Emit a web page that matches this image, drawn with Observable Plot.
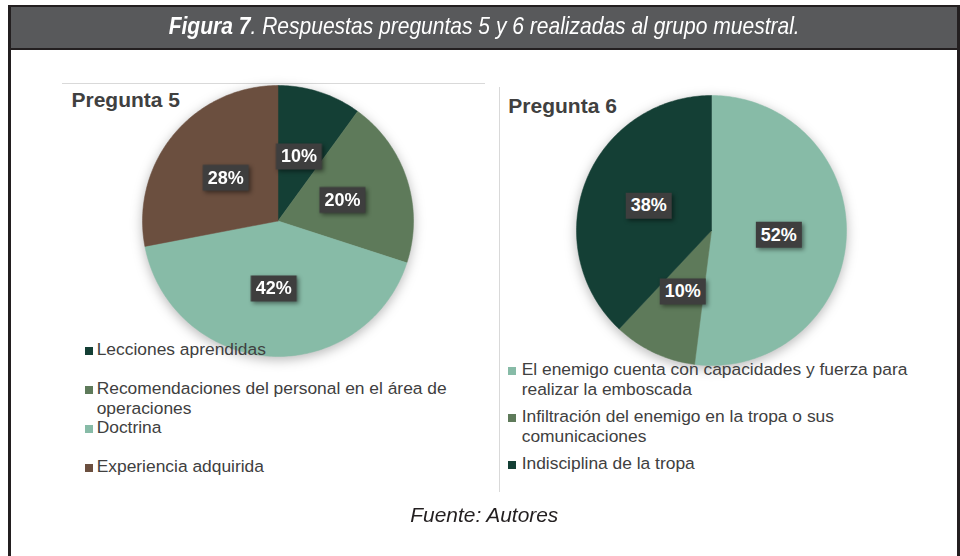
<!DOCTYPE html>
<html>
<head>
<meta charset="utf-8">
<script src="https://cdn.jsdelivr.net/npm/d3@7"></script>
<script src="https://cdn.jsdelivr.net/npm/@observablehq/plot@0.6"></script>
<style>
  body{margin:0;width:960px;height:556px;overflow:hidden;background:#fff;position:relative;font-family:"Liberation Sans",Arial,sans-serif;}
  #frame{position:absolute;left:8px;top:5px;width:946px;height:560px;border-left:3px solid #231f20;border-right:3px solid #231f20;border-top:2px solid #231f20;}
  #titlebar{position:absolute;left:11px;top:7px;width:946px;height:41px;background:#58595b;border-bottom:2px solid #231f20;}
  .cond{position:absolute;left:8px;width:952px;text-align:center;white-space:nowrap;font-family:"Liberation Sans Narrow","Liberation Sans",Arial,sans-serif;font-style:italic;}
  .cond span{display:inline-block;transform-origin:50% 50%;}
  #title{top:14px;font-size:24px;line-height:24px;color:#fff;}
  #footer{top:504px;font-size:21px;line-height:21px;color:#231f20;}
  .hline{position:absolute;background:#d9d9d9;}
  .ptitle{position:absolute;font-weight:bold;font-size:21px;line-height:21px;color:#404040;white-space:nowrap;}
  .legend{position:absolute;font-size:17.4px;line-height:20px;color:#404040;}
  .legend .entry{position:relative;}
  .legend .mk{position:absolute;width:8px;height:8px;top:8px;}
</style>
</head>
<body>
<div id="frame"></div>
<div id="titlebar"></div>
<div id="title" class="cond"><span><b>Figura 7</b>. Respuestas preguntas 5 y 6 realizadas al grupo muestral.</span></div>
<div class="hline" style="left:62px;top:83px;width:423px;height:1px;"></div>
<div class="hline" style="left:499px;top:87px;width:1px;height:405px;"></div>
<div id="footer" class="cond"><span>Fuente: Autores</span></div>
<script>
// ---- Data ----
const p5Title = "Pregunta 5";
const p5Categories = ["Lecciones aprendidas", "Recomendaciones del personal en el área de operaciones", "Doctrina", "Experiencia adquirida"];
const p5Values = [10, 20, 42, 28];
const p5Colors = ["#143f35", "#5e7a5a", "#87bba7", "#6b4f3f"];

const p6Title = "Pregunta 6";
const p6Categories = ["El enemigo cuenta con capacidades y fuerza para realizar la emboscada", "Infiltración del enemigo en la tropa o sus comunicaciones", "Indisciplina de la tropa"];
const p6Values = [52, 10, 38];
const p6Colors = ["#87bba7", "#5e7a5a", "#143f35"];

// ---- Pie via Plot ----
function pieChart(categories, values, colors, r, m) {
  const data = categories.map((c, i) => ({cat: c, value: values[i]}));
  const arcs = d3.pie().sort(null).value(d => d.value)(data);
  const pts = [];
  for (const a of arcs) {
    pts.push({cat: a.data.cat, x: 0, y: 0});
    const n = Math.max(2, Math.ceil((a.endAngle - a.startAngle) / (Math.PI / 180)));
    for (let k = 0; k <= n; k++) {
      const t = a.startAngle + (a.endAngle - a.startAngle) * k / n;
      pts.push({cat: a.data.cat, x: Math.sin(t), y: Math.cos(t)});
    }
    pts.push({cat: a.data.cat, x: 0, y: 0});
  }
  const labels = arcs.map(a => {
    const t = (a.startAngle + a.endAngle) / 2;
    return {x: 0.5 * Math.sin(t), y: 0.5 * Math.cos(t), text: a.data.value + "%"};
  });
  const box = {draw(ctx) { ctx.rect(-23, -13, 46, 26); }};
  return Plot.plot({
    width: 2 * (r + m), height: 2 * (r + m), margin: m,
    x: {domain: [-1, 1], axis: null},
    y: {domain: [-1, 1], axis: null},
    color: {domain: categories, range: colors},
    style: {overflow: "visible", background: "transparent"},
    marks: [
      Plot.line(pts, {x: "x", y: "y", z: "cat", fill: "cat", stroke: "cat", strokeWidth: 0.5, curve: "linear",
        imageFilter: "drop-shadow(0px 3px 6px rgba(0,0,0,0.28))"}),
      Plot.dot(labels, {x: "x", y: "y", symbol: box, r: 10, fill: "#3e3e3e", stroke: null,
        imageFilter: "drop-shadow(2px 2px 2px rgba(0,0,0,0.45))"}),
      Plot.text(labels, {x: "x", y: "y", text: "text", fill: "white", fontSize: 18, fontWeight: "bold",
        fontFamily: "Liberation Sans, Arial, sans-serif"})
    ]
  });
}

function place(svg, cx, cy, r, m) {
  svg.style.position = "absolute";
  svg.style.left = (cx - r - m) + "px";
  svg.style.top = (cy - r - m) + "px";
  document.body.appendChild(svg);
}

const M = 20;
place(pieChart(p5Categories, p5Values, p5Colors, 135.5, M), 277.5, 220.5, 135.5, M);
place(pieChart(p6Categories, p6Values, p6Colors, 135, M), 711, 230, 135, M);

// ---- Chart titles ----
function addTitle(text, x, baseline) {
  const d = document.createElement("div");
  d.className = "ptitle";
  d.textContent = text;
  d.style.left = x + "px";
  d.style.top = (baseline - 17.8) + "px";
  document.body.appendChild(d);
}
addTitle(p5Title, 71.5, 106.7);
addTitle(p6Title, 508.3, 112.5);

// ---- Legends ----
function addLegend(categories, colors, x, firstBaseline, width, entryHeight, gap, mkOffset) {
  const lg = document.createElement("div");
  lg.className = "legend";
  lg.style.left = x + "px";
  lg.style.top = (firstBaseline - 16.1) + "px";
  lg.style.width = width + "px";
  categories.forEach((c, i) => {
    const e = document.createElement("div");
    e.className = "entry";
    if (entryHeight) e.style.height = entryHeight + "px";
    if (gap) e.style.marginBottom = gap + "px";
    const mk = document.createElement("div");
    mk.className = "mk";
    mk.style.left = mkOffset + "px";
    mk.style.background = colors[i];
    e.appendChild(mk);
    e.appendChild(document.createTextNode(c));
    lg.appendChild(e);
  });
  document.body.appendChild(lg);
}
addLegend(p5Categories, p5Colors, 96.7, 355, 365, 39, 0, -12);
addLegend(p6Categories, p6Colors, 521.7, 375, 400, 0, 7, -13.3);

// ---- Fit condensed texts ----
function fit(id, target) {
  const s = document.querySelector("#" + id + " span");
  const w = s.getBoundingClientRect().width;
  s.style.transform = "scaleX(" + (target / w) + ")";
}
fit("title", 631);
fit("footer", 148);
</script>
</body>
</html>
